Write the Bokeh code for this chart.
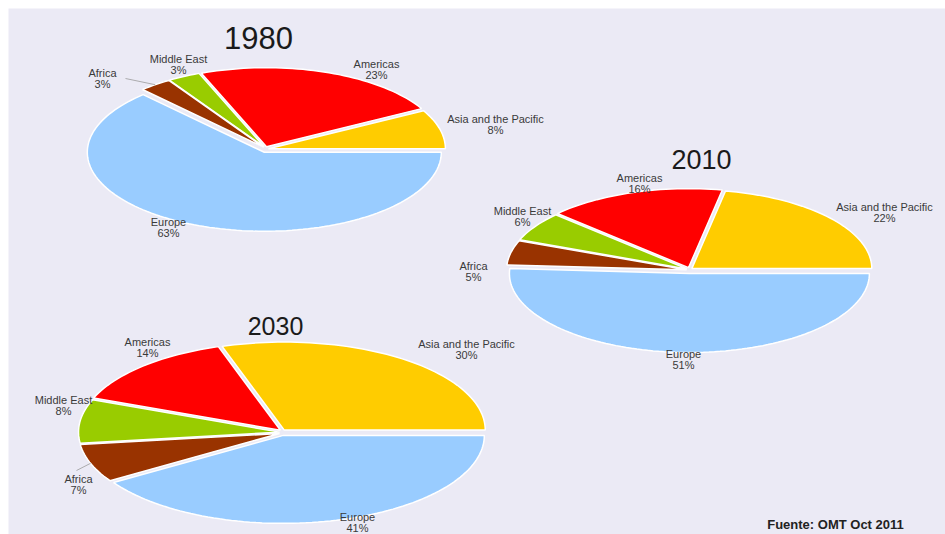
import numpy as np
from bokeh.plotting import figure
from bokeh.models import ColumnDataSource, Range1d
from bokeh.core.properties import value
from bokeh.embed import file_html
from bokeh.resources import INLINE

# ---------------- data ----------------
regions = ["Asia and the Pacific", "Americas", "Middle East", "Africa", "Europe"]
years = ["1980", "2010", "2030"]
share_1980 = [8, 23, 3, 3, 63]
share_2010 = [22, 16, 6, 5, 51]
share_2030 = [30, 14, 8, 7, 41]
shares = {"1980": share_1980, "2010": share_2010, "2030": share_2030}
source_note = "Fuente: OMT Oct 2011"

# ---------------- styles / layout ----------------
colors = ["#FFCC00", "#FF0000", "#99CC00", "#993300", "#99CCFF"]
BG = "#EBEAF5"
LABEL_COLOR = "#3a3a3a"

# pie geometry in page pixels: centre x, centre y, x-radius, y-radius
pie_geom = {
    "1980": (265, 149, 177, 79),
    "2010": (689, 270, 180, 79),
    "2030": (282, 432, 201, 88),
}
explode = 3
title_pos = {"1980": (258, 37, "31px"), "2010": (701, 159, "27px"), "2030": (275, 325, "25px")}
label_pos = {
    "1980": [(495, 118), (376, 63), (178, 58), (102, 72), (168, 221)],
    "2010": [(884, 206), (639, 177), (522, 210), (473, 265), (683, 353)],
    "2030": [(466, 343), (147, 341), (63, 399), (78, 478), (357, 516)],
}
# leader lines: (year, region index, start offset from label anchor)
leaders = [("1980", 3, (23, 6)), ("2030", 3, (-2, -8))]

W, H = 945, 534
p = figure(width=W, height=H, output_backend="svg", toolbar_location=None,
           x_range=Range1d(8, W), y_range=Range1d(H, 8),
           min_border_left=8, min_border_top=8, min_border_right=0, min_border_bottom=0,
           background_fill_color=BG, border_fill_color="white")
p.axis.visible = False
p.grid.visible = False
p.outline_line_color = None

xs, ys, fills = [], [], []
lab_x, lab_y, lab_t = [], [], []
pct_x, pct_y, pct_t = [], [], []
mid_angles = {}
for yr in years:
    cx, cy, rx, ry = pie_geom[yr]
    vals = np.array(shares[yr], dtype=float)
    frac = vals / vals.sum()
    edges = np.concatenate([[0.0], np.cumsum(frac)]) * 2 * np.pi
    mids = []
    for i in range(len(vals)):
        a0, a1 = edges[i], edges[i + 1]
        mid = 0.5 * (a0 + a1)
        mids.append(mid)
        ox = cx + explode * np.cos(mid)
        oy = cy - explode * np.sin(mid)
        t = np.linspace(a0, a1, max(8, int(200 * (a1 - a0) / (2 * np.pi)) + 2))
        px = np.concatenate([[ox], ox + rx * np.cos(t)])
        py = np.concatenate([[oy], oy - ry * np.sin(t)])
        xs.append(list(px))
        ys.append(list(py))
        fills.append(colors[i])
        lx, ly = label_pos[yr][i]
        lab_x.append(lx); lab_y.append(ly); lab_t.append(regions[i])
        pct_x.append(lx); pct_y.append(ly + 11); pct_t.append(f"{int(vals[i])}%")
    mid_angles[yr] = mids

p.patches(xs="xs", ys="ys", fill_color="fill", line_color="white", line_width=1.5,
          source=ColumnDataSource(dict(xs=xs, ys=ys, fill=fills)))

# leader lines
lx0, ly0, lx1, ly1 = [], [], [], []
for yr, i, (dx, dy) in leaders:
    cx, cy, rx, ry = pie_geom[yr]
    m = mid_angles[yr][i]
    ax, ay = label_pos[yr][i]
    lx0.append(ax + dx); ly0.append(ay + dy)
    lx1.append(cx + (rx + explode) * np.cos(m)); ly1.append(cy - (ry + explode) * np.sin(m))
p.segment(x0=lx0, y0=ly0, x1=lx1, y1=ly1, line_color="#9a9a9a", line_width=0.8)

p.text(x=lab_x, y=lab_y, text=lab_t, text_align="center", text_baseline="middle",
       text_font=value("Liberation Sans"), text_font_size="11px", text_color=LABEL_COLOR)
p.text(x=pct_x, y=pct_y, text=pct_t, text_align="center", text_baseline="middle",
       text_font=value("Liberation Sans"), text_font_size="11px", text_color=LABEL_COLOR)

for yr in years:
    tx, ty, fs = title_pos[yr]
    p.text(x=[tx], y=[ty], text=[yr], text_align="center", text_baseline="middle",
           text_font=value("Liberation Sans"), text_font_size=fs, text_color="#1a1a1a")

p.text(x=[835], y=[524], text=[source_note], text_align="center", text_baseline="middle",
       text_font=value("Liberation Sans"), text_font_size="13px", text_font_style="bold",
       text_color="#222222")

open("out.html", "w").write(file_html(p, INLINE))
